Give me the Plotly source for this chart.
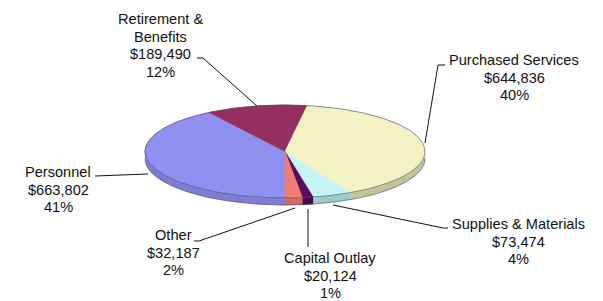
import numpy as np
import plotly.graph_objects as go

# ---- data ----
categories = ["Personnel", "Retirement &<br>Benefits", "Purchased Services",
              "Supplies & Materials", "Capital Outlay", "Other"]
values = [663802, 189490, 644836, 73474, 20124, 32187]
pct_labels = ["41%", "12%", "40%", "4%", "1%", "2%"]

# ---- style ----
top_colors = ["#9090f0", "#952f60", "#f2f2c4", "#c6f4f4", "#5c0a5c", "#f27c72"]
side_colors = ["#7e7ed8", "#6e2046", "#c4c49c", "#9ccccc", "#4a064a", "#d06a60"]
CX, CY, RX, RY, DEPTH = 285, 151.5, 140, 46.5, 7
START = 180.0  # degrees clockwise from 12 o'clock where first slice starts

# label layout: (center x, first line y), line step
label_pos = [(58, 172), (160, 19), (514, 60), (518, 224), (330, 258), (173, 235)]
LINE_STEP = 17.6
leaders = [
    [(95, 176), (148, 174)],
    [(197, 58), (203, 58), (257, 106)],
    [(445, 65), (438, 65), (425, 143)],
    [(333, 205), (443, 228), (448, 228)],
    [(308, 209), (308, 247)],
    [(194, 241), (199, 241), (295, 208)],
]


def pt(theta_deg, dy=0.0):
    t = np.radians(theta_deg)
    return CX + RX * np.sin(t), CY - RY * np.cos(t) + dy


fig = go.Figure()
total = float(sum(values))
spans = []
a = START
for v in values:
    b = a + 360.0 * v / total
    spans.append((a, b))
    a = b

# sides (front half only: 90..270 deg, modulo 360)
for (a, b), sc in zip(spans, side_colors):
    for off in (-360, 0, 360):
        lo = max(a + off, 90)
        hi = min(b + off, 270)
        if hi > lo:
            th = np.linspace(lo, hi, 80)
            xt, yt = pt(th)
            xb, yb = pt(th[::-1], DEPTH)
            fig.add_trace(go.Scatter(
                x=np.concatenate([xt, xb]), y=np.concatenate([yt, yb]),
                fill="toself", fillcolor=sc, mode="lines",
                line=dict(color=sc, width=0.5), hoverinfo="skip", showlegend=False))

# bottom outline of the side
th = np.linspace(90, 270, 200)
xb, yb = pt(th, DEPTH)
fig.add_trace(go.Scatter(x=xb, y=yb, mode="lines",
                         line=dict(color="rgba(70,70,90,0.55)", width=1),
                         hoverinfo="skip", showlegend=False))

# top faces
for (a, b), tc in zip(spans, top_colors):
    th = np.linspace(a, b, max(4, int((b - a) * 2)))
    xs, ys = pt(th)
    fig.add_trace(go.Scatter(
        x=np.concatenate([[CX], xs, [CX]]), y=np.concatenate([[CY], ys, [CY]]),
        fill="toself", fillcolor=tc, mode="lines",
        line=dict(color=tc, width=0.6), hoverinfo="skip", showlegend=False))

# top outline
th = np.linspace(0, 360, 361)
xo, yo = pt(th)
fig.add_trace(go.Scatter(x=xo, y=yo, mode="lines",
                         line=dict(color="rgba(70,70,90,0.6)", width=1),
                         hoverinfo="skip", showlegend=False))

# leader lines
for pts in leaders:
    fig.add_trace(go.Scatter(x=[p[0] for p in pts], y=[p[1] for p in pts],
                             mode="lines", line=dict(color="#111111", width=1),
                             hoverinfo="skip", showlegend=False))

# labels
annotations = []
for cat, v, pc, (lx, ly) in zip(categories, values, pct_labels, label_pos):
    lines = cat.split("<br>") + ["${:,}".format(v), pc]
    for i, txt in enumerate(lines):
        annotations.append(dict(x=lx, y=ly + i * LINE_STEP, text=txt,
                                showarrow=False, xanchor="center", yanchor="middle",
                                font=dict(family="Liberation Sans, Arial", size=14.6,
                                          color="#111111")))

fig.update_layout(
    width=603, height=301, autosize=False,
    margin=dict(l=0, r=0, t=0, b=0),
    paper_bgcolor="white", plot_bgcolor="white",
    xaxis=dict(range=[0, 603], visible=False, fixedrange=True),
    yaxis=dict(range=[301, 0], visible=False, fixedrange=True),
    annotations=annotations,
)
fig.write_html("out.html", config={"displayModeBar": False},
               post_script="document.body.style.margin='0';"
                           "document.body.style.overflow='hidden';")
